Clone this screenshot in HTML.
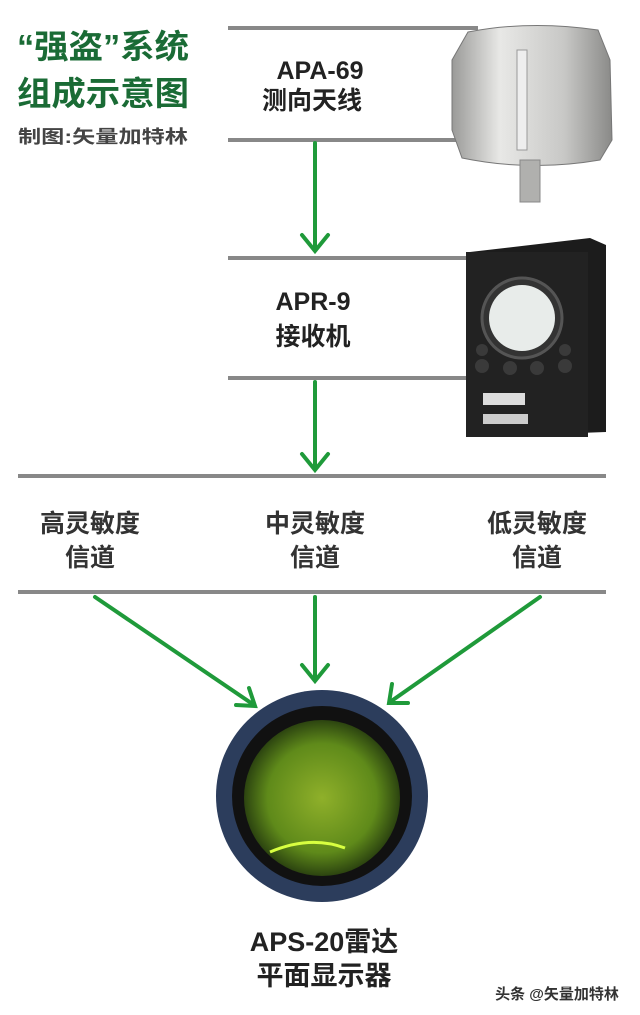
<!DOCTYPE html>
<html><head><meta charset="utf-8"><style>
html,body{margin:0;padding:0;background:#fff;}
svg{display:block}
text{font-family:"Liberation Sans","Noto Sans CJK SC",sans-serif;font-weight:bold}
</style></head><body>
<svg width="640" height="1015" viewBox="0 0 640 1015" xmlns="http://www.w3.org/2000/svg">
<defs>
<radialGradient id="g1" cx="0.5" cy="0.5" r="0.5"><stop offset="0" stop-color="#8fb02a"/><stop offset="0.7" stop-color="#5f8a1a"/><stop offset="1" stop-color="#2c4410"/></radialGradient>
<linearGradient id="ant" x1="0" x2="1"><stop offset="0" stop-color="#9a9a98"/><stop offset="0.3" stop-color="#e8e8e6"/><stop offset="0.7" stop-color="#c8c8c6"/><stop offset="1" stop-color="#8a8a88"/></linearGradient>
</defs>
<text x="17" y="58" font-size="33" fill="#1a6b35" textLength="172" lengthAdjust="spacingAndGlyphs">“强盗”系统</text>
<text x="17" y="105" font-size="33" fill="#1a6b35" textLength="172" lengthAdjust="spacingAndGlyphs">组成示意图</text>
<text x="18" y="143" font-size="18" fill="#444" textLength="170" lengthAdjust="spacingAndGlyphs">制图:矢量加特林</text>
<g fill="#888">
<rect x="228" y="26" width="250" height="4"/>
<rect x="228" y="138" width="230" height="4"/>
<rect x="228" y="256" width="245" height="4"/>
<rect x="228" y="376" width="245" height="4"/>
<rect x="18" y="474" width="588" height="4"/>
<rect x="18" y="590" width="588" height="4"/>
</g>
<g fill="#222" text-anchor="middle">
<text x="320" y="79" font-size="25">APA-69</text>
<text x="312" y="109" font-size="25">测向天线</text>
<text x="313" y="310" font-size="25">APR-9</text>
<text x="313" y="345" font-size="25">接收机</text>
<text x="90" y="532" font-size="25" font-weight="normal" fill="#333">高灵敏度</text>
<text x="90" y="566" font-size="25" font-weight="normal" fill="#333">信道</text>
<text x="315" y="532" font-size="25" font-weight="normal" fill="#333">中灵敏度</text>
<text x="315" y="566" font-size="25" font-weight="normal" fill="#333">信道</text>
<text x="537" y="532" font-size="25" font-weight="normal" fill="#333">低灵敏度</text>
<text x="537" y="566" font-size="25" font-weight="normal" fill="#333">信道</text>
<text x="324" y="951" font-size="27">APS-20雷达</text>
<text x="324" y="985" font-size="27">平面显示器</text>
<text x="557" y="999" font-size="15" font-weight="normal" fill="#333">头条 @矢量加特林</text>
</g>
<g stroke="#1f9a3a" stroke-width="4" fill="none" stroke-linecap="round">
<line x1="315" y1="143" x2="315" y2="250"/><polyline points="302,235 315,251 328,235"/>
<line x1="315" y1="382" x2="315" y2="469"/><polyline points="302,454 315,470 328,454"/>
<line x1="95" y1="597" x2="254" y2="705"/><polyline points="236,705 255,706 249,688"/>
<line x1="315" y1="597" x2="315" y2="680"/><polyline points="302,665 315,681 328,665"/>
<line x1="540" y1="597" x2="390" y2="702"/><polyline points="392,684 389,703 408,703"/>
</g>
<path d="M468 32 Q530 20 598 30 L610 60 L612 140 L600 160 Q530 172 462 158 L452 130 L452 60 Z" fill="url(#ant)" stroke="#777"/>
<rect x="520" y="160" width="20" height="42" fill="#b0b0ae" stroke="#888"/>
<rect x="517" y="50" width="10" height="100" fill="#eee" stroke="#999"/>
<path d="M470 252 L590 238 L606 245 L606 432 L470 437 Z" fill="#1c1c1c"/>
<rect x="466" y="252" width="122" height="185" fill="#222"/>
<circle cx="522" cy="318" r="40" fill="#333" stroke="#555" stroke-width="3"/>
<circle cx="522" cy="318" r="33" fill="#e8ecea"/>
<g fill="#3a3a3a"><circle cx="482" cy="366" r="7"/><circle cx="510" cy="368" r="7"/><circle cx="537" cy="368" r="7"/><circle cx="565" cy="366" r="7"/><circle cx="565" cy="350" r="6"/><circle cx="482" cy="350" r="6"/></g>
<rect x="483" y="393" width="42" height="12" fill="#ddd"/>
<rect x="483" y="414" width="45" height="10" fill="#ccc"/>
<circle cx="322" cy="796" r="106" fill="#2c3d5c"/>
<circle cx="322" cy="796" r="90" fill="#111"/>
<circle cx="322" cy="798" r="78" fill="url(#g1)"/>
<path d="M270 852 Q310 835 345 848" stroke="#d8ff40" stroke-width="3" fill="none"/>
</svg>
</body></html>
